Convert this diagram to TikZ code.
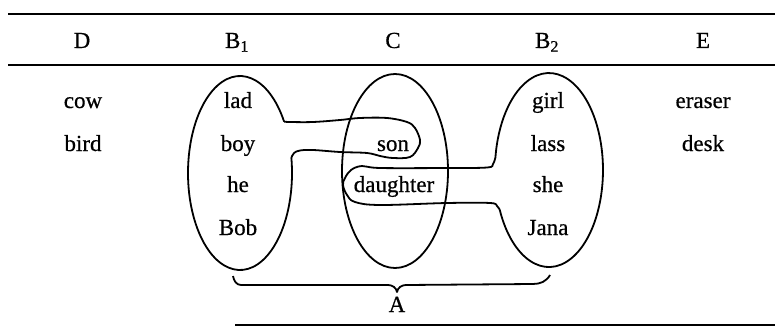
\documentclass[tikz,border=0pt]{standalone}
\usepackage{fontspec}
\setmainfont{Liberation Serif}
\newfontfamily\scanfont[FakeBold=0.6]{Liberation Serif}
\begin{document}
\begin{tikzpicture}[x=1pt,y=1pt,
  lbl/.style={anchor=base,inner sep=0pt,font=\scanfont\fontsize{23}{25}\selectfont},
  rule/.style={line width=1.6pt},
  outline/.style={line width=1.8pt,line join=round}]
\useasboundingbox (0,0) rectangle (775,327);
% table rules
\draw[rule] (8,313) -- (775,313);
\draw[rule] (8,262) -- (775,262);
\draw[rule] (235,2) -- (775,2);
% headers
\node[lbl] (hD) at (82,279) {D};
\node[lbl] (hB1) at (237,279) {B\textsubscript{1}};
\node[lbl] (hC) at (393,279) {C};
\node[lbl] (hB2) at (547,279) {B\textsubscript{2}};
\node[lbl] (hE) at (703,279) {E};
% column D
\node[lbl] (cow) at (83,219) {cow};
\node[lbl] (bird) at (83,176) {bird};
% column B1
\node[lbl] (lad) at (238,219) {lad};
\node[lbl] (boy) at (238,176) {boy};
\node[lbl] (he) at (238,135) {he};
\node[lbl] (bob) at (238,92) {Bob};
% column C
\node[lbl] (son) at (393,176) {son};
\node[lbl] (daughter) at (394,135) {daughter};
% column B2
\node[lbl] (girl) at (548,219) {girl};
\node[lbl] (lass) at (548,176) {lass};
\node[lbl] (she) at (548,135) {she};
\node[lbl] (jana) at (548,92) {Jana};
% column E
\node[lbl] (eraser) at (703,219) {eraser};
\node[lbl] (desk) at (703,176) {desk};
% ellipse C
\draw[outline] (395,156) ellipse [x radius=53, y radius=97];
% B1 outline with lobe around son
\draw[outline] (284.1,205.4) arc[start angle=32, end angle=369, x radius=52, y radius=97]
  -- plot[smooth, tension=0.6] coordinates {(291.4,169.2) (294,174) (300,176.5) (313,177) (340,175) (367,174) (380,171) (393,169) (410,170) (418,179) (420,187) (415,199) (407,205) (387,209) (360,209) (340,207) (313,205) (290,205) (284.1,205.4)};
% B2 outline with lobe around daughter
\draw[outline] (499.8,116.9) arc[start angle=204.4, end angle=532.3, x radius=54, y radius=97]
  -- plot[smooth, tension=0.6] coordinates {(495.5,170) (493,163) (487,159.5) (447,159) (380,159) (362,161) (351,157) (345,149) (343,142) (347,132) (355,125) (380,122) (447,124) (490,124) (497,121) (499.8,116.9)};
% brace
\draw[outline] (233,51) to[out=-80,in=180] (241,42) -- (388,42) to[out=0,in=100] (397,35)
  to[out=80,in=180] (406,42) -- (533,43) to[out=0,in=-120] (550,52);
\node[lbl] (A) at (397,15) {A};
\end{tikzpicture}
\end{document}
